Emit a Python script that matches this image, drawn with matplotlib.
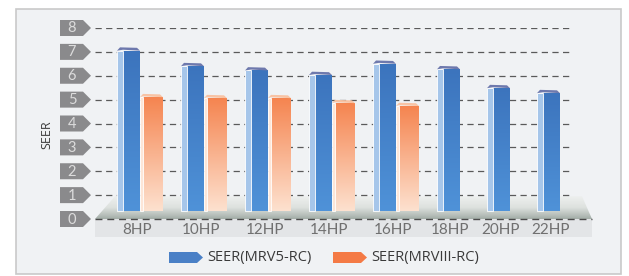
import matplotlib.pyplot as plt
import matplotlib.patches as mpatches
import numpy as np

categories = ['8HP', '10HP', '12HP', '14HP', '16HP', '18HP', '20HP', '22HP']
seer_mrv5 = [7.05, 6.4, 6.22, 6.03, 6.5, 6.27, 5.48, 5.27]
seer_mrv3 = [5.1, 5.06, 5.06, 4.85, 4.73, None, None, None]
series_names = ['SEER(MRV5-RC)', 'SEER(MRVIII-RC)']
y_ticks = [0, 1, 2, 3, 4, 5, 6, 7, 8]

W, H = 629, 276
fig = plt.figure(figsize=(W / 100, H / 100), dpi=100)

# background layer in pixel coordinates
bg = fig.add_axes([0, 0, 1, 1], zorder=0)
bg.set_xlim(0, W)
bg.set_ylim(H, 0)
bg.axis('off')
bg.add_patch(mpatches.Rectangle((16, 9), 605, 265, facecolor='#f0f2f4',
                                edgecolor='#c9c9c9', lw=1.2))

# main plotting axes (x in pixel units, y in SEER)
x_lo, x_hi, y0_px, y8_px = 95, 592, 219, 28
ax = fig.add_axes([x_lo / W, 1 - y0_px / H, (x_hi - x_lo) / W, (y0_px - y8_px) / H], zorder=1)
ax.set_xlim(x_lo, x_hi)
ax.set_ylim(0, 8)
ax.axis('off')
ax.patch.set_alpha(0)

# floor (pseudo 3d)
floor = mpatches.Polygon([(95, 0), (592, 0), (582, 0.95), (115, 0.95)], closed=True,
                         facecolor='none', edgecolor='none')
ax.add_patch(floor)
grad = np.linspace(0, 1, 100).reshape(-1, 1)
fimg = ax.imshow(grad, extent=[95, 592, 0, 0.95], origin='lower', aspect='auto',
                 cmap=plt.matplotlib.colors.LinearSegmentedColormap.from_list(
                     'fl', ['#a3ada7', '#dde1de', '#eef0ef']), zorder=1)
fimg.set_clip_path(floor)

# label band
bg.add_patch(mpatches.Rectangle((95, 219), 497, 18, facecolor='#e3e5e7', edgecolor='none'))

# grid lines
for t in y_ticks[1:]:
    ax.plot([95, 573], [t, t], ls=(0, (5, 3.5)), color='#5a5a5a', lw=0.9, zorder=2)
ax.plot([95, 592], [0, 0], ls=(0, (5, 3.5)), color='#4a4a4a', lw=1.0, zorder=5, clip_on=False)

# y tick badges
for t in y_ticks:
    yp = y0_px - t * (y0_px - y8_px) / 8
    bg.add_patch(mpatches.Polygon([(60, yp - 8), (83, yp - 8), (91, yp), (83, yp + 8), (60, yp + 8)],
                                  closed=True, facecolor='#8a8a8c', edgecolor='none'))
    bg.text(72, yp + 0.5, str(t), ha='center', va='center', color='#dcdcdc',
            fontsize=10.5, family='Lato')
bg.text(47, 135, 'SEER', rotation=90, ha='center', va='center', color='#3a3a3a',
        fontsize=9, family='Open Sans')

blue_cmap = plt.matplotlib.colors.LinearSegmentedColormap.from_list('b', ['#4f92d8', '#3c74bd'])
orange_cmap = plt.matplotlib.colors.LinearSegmentedColormap.from_list('o', ['#fde1cf', '#f5844f'])
bw = 23
base = 0.32


def draw_bar(x, v, cmap, side_col, cap_col, side_w):
    bars = ax.bar(x + side_w, v - base, width=bw - side_w, bottom=base, align='edge',
                  color='none', edgecolor='none', zorder=3)
    img = ax.imshow(grad, extent=[x + side_w, x + bw, base, v], origin='lower',
                    aspect='auto', cmap=cmap, zorder=3)
    img.set_clip_path(bars[0])
    ax.bar(x, v - base, width=side_w, bottom=base, align='edge', color=side_col,
           edgecolor='white', lw=0.6, zorder=3)
    ax.add_patch(mpatches.Polygon([(x, v), (x + side_w, v + 0.04), (x + bw, v), (x + bw - 3, v + 0.12),
                                   (x + 3, v + 0.14)], closed=True, facecolor=cap_col,
                                  edgecolor='none', zorder=4))


cursor = 117
for cat, b, o in zip(categories, seer_mrv5, seer_mrv3):
    n = 1 if o is None else 2
    draw_bar(cursor, b, blue_cmap, '#a6c6ea', '#6e79ad', 6)
    if o is not None:
        draw_bar(cursor + bw, o, orange_cmap, '#fde6d8', '#f8c3a4', 3)
    cx = cursor + n * bw / 2 - (3 if n == 2 else -2)
    bg.text(cx, 229.5, cat, ha='center', va='center', color='#707070', fontsize=11, family='Lato')
    cursor += n * bw + (18 if n == 2 else 27)

# legend
colors = ['#4a80c6', '#f47a45']
for (lx, tx), name, c in zip([(169, 207), (333, 371)], series_names, colors):
    bg.add_patch(mpatches.Polygon([(lx, 252), (lx + 28, 252), (lx + 34, 257.5), (lx + 28, 263), (lx, 263)],
                                  closed=True, facecolor=c, edgecolor='none'))
    bg.text(tx, 257.5, name, ha='left', va='center', color='#3a3a3a', fontsize=10.5, family='Open Sans')

fig.savefig('out.png', dpi=100)
